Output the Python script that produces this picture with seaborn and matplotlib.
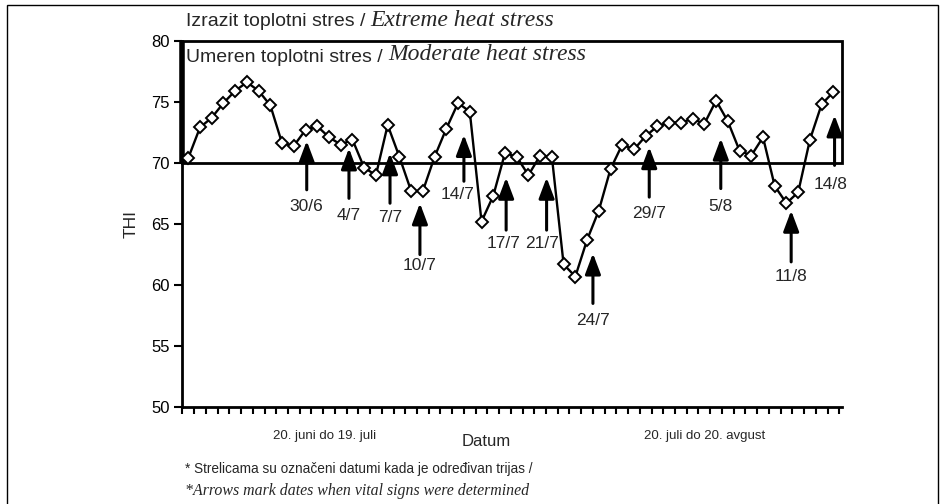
import numpy as np
import matplotlib
matplotlib.use("Agg")
import matplotlib.pyplot as plt
from matplotlib.patches import Rectangle
import seaborn as sns


# ============================================================
# DATA
# ============================================================
# daily THI, 20 June .. mid August (56 readings)
thi = [70.4, 72.9, 73.7, 74.9, 75.9, 76.6, 75.9, 74.7, 71.6, 71.4,
       72.7, 73.0, 72.1, 71.5, 71.9, 69.6, 69.0, 73.1, 70.5, 67.7,
       67.7, 70.5, 72.8, 74.9, 74.2, 65.2, 67.3, 70.8, 70.5, 69.0,
       70.6, 70.5, 61.7, 60.7, 63.7, 66.1, 69.5, 71.5, 71.1, 72.2,
       73.0, 73.3, 73.3, 73.6, 73.2, 75.1, 73.4, 71.0, 70.6, 72.1,
       68.1, 66.7, 67.6, 71.9, 74.8, 75.8]
day = np.arange(len(thi))

# dates when vital signs were determined (arrows)
arrow_labels = ['30/6', '4/7', '7/7', '10/7', '14/7', '17/7',
                '21/7', '24/7', '29/7', '5/8', '11/8', '14/8']
arrow_x = [10.1, 13.7, 17.2, 19.75, 23.5, 27.1, 30.55, 34.5, 39.3, 45.4, 51.4, 55.1]
arrow_top = [71.8, 71.2, 70.8, 66.7, 72.3, 68.8, 68.8, 62.6, 71.3, 72.0, 66.1, 73.9]
arrow_bottom = [67.8, 67.1, 66.7, 62.5, 68.5, 64.5, 64.5, 58.5, 67.2, 67.9, 61.9, 69.8]
label_x = [10.1, 13.7, 17.2, 19.75, 23.0, 26.85, 30.2, 34.5, 39.3, 45.4, 51.4, 54.8]
label_y = [66.4, 65.7, 65.5, 61.6, 67.4, 63.4, 63.4, 57.1, 65.9, 66.4, 60.7, 68.2]

y_ticks = [50, 55, 60, 65, 70, 75, 80]
moderate_limit = 70
extreme_limit = 80

SANS = ['Liberation Sans', 'DejaVu Sans']
SERIF = ['Liberation Serif', 'DejaVu Serif']
NARROW = ['Liberation Sans Narrow', 'Liberation Sans', 'DejaVu Sans']

# ============================================================
# FIGURE
# ============================================================
sns.set_style('ticks')
plt.rcParams['font.family'] = SANS

W, H = 946, 504
fig = plt.figure(figsize=(W / 100, H / 100), dpi=100)


def px(x, y):
    """pixel position (from top-left) -> figure fraction"""
    return x / W, 1 - y / H


x0, x1 = -0.5, 55.7
ax = fig.add_axes([182.4 / W, 1 - 407.3 / H, (841.6 - 182.4) / W, (407.3 - 40.7) / H])

sns.lineplot(x=day, y=thi, ax=ax, color='black', linewidth=1.7,
             marker='D', markersize=6, markerfacecolor='white',
             markeredgecolor='black', markeredgewidth=1.4, zorder=3)

ax.set_xlim(x0, x1)
ax.set_ylim(50, 80)
ax.set_yticks(y_ticks)
ax.set_xticks(np.arange(-0.5, 56, 1))
ax.set_xticklabels([])
ax.tick_params(axis='y', labelsize=12, length=6, width=1.5, pad=3, colors='black')
ax.tick_params(axis='x', length=5, width=1.5, colors='black')
for side in ['top', 'right']:
    ax.spines[side].set_visible(False)
for side in ['left', 'bottom']:
    ax.spines[side].set_linewidth(2)
    ax.spines[side].set_color('black')

ax.set_ylabel('THI', fontsize=12.5, labelpad=9)
ax.set_xlabel('')

# heat stress box (70-80)
ax.add_patch(Rectangle((x0, moderate_limit), x1 - x0, extreme_limit - moderate_limit,
                       fill=False, lw=2, edgecolor='black', clip_on=False, zorder=2))
ax.vlines(x0, moderate_limit, extreme_limit, lw=4, color='black', clip_on=False, zorder=2)

# arrows
for lab, xa, yt, yb, lx, ly in zip(arrow_labels, arrow_x, arrow_top, arrow_bottom, label_x, label_y):
    ax.annotate('', xy=(xa, yt), xytext=(xa, yb),
                arrowprops=dict(arrowstyle='-|>,head_length=1.25,head_width=0.47',
                                lw=2.2, color='black', shrinkA=0, shrinkB=0,
                                mutation_scale=10),
                zorder=4)
    ax.text(lx, ly, lab, ha='center', va='center', fontsize=12.5, zorder=4)

# ============================================================
# TEXTS
# ============================================================
t1 = fig.text(*px(186, 22), 'Izrazit toplotni stres / ', fontsize=14,
              va='center', ha='left', family=SANS)
ax.annotate('Extreme heat stress', xy=(1, 0), xycoords=t1, va='bottom', ha='left',
            fontsize=17, style='italic', family=SERIF)
t2 = fig.text(*px(186, 57), 'Umeren toplotni stres / ', fontsize=14,
              va='center', ha='left', family=SANS)
ax.annotate('Moderate heat stress', xy=(1, 0), xycoords=t2, va='bottom', ha='left',
            fontsize=17, style='italic', family=SERIF)

fig.text(*px(325, 436), '20. juni do 19. juli', fontsize=9.5, ha='center', va='center',
         family=NARROW)
fig.text(*px(705, 436), '20. juli do 20. avgust', fontsize=9.5, ha='center', va='center',
         family=NARROW)
fig.text(*px(486, 441), 'Datum', fontsize=12, ha='center', va='center')

fig.text(*px(185, 469), '* Strelicama su označeni datumi kada je određivan trijas /',
         fontsize=9.8, ha='left', va='center', family=SANS)
fig.text(*px(185, 491), '*Arrows mark dates when vital signs were determined',
         fontsize=11.4, ha='left', va='center', style='italic', family=SERIF)

# page frame
fig.patches.append(Rectangle((7 / W, -0.05), (938 - 7) / W, 1.05 - 5 / H,
                             transform=fig.transFigure, fill=False, lw=1,
                             edgecolor='black'))

fig.savefig('out.png', dpi=100, facecolor='white')
plt.close(fig)
